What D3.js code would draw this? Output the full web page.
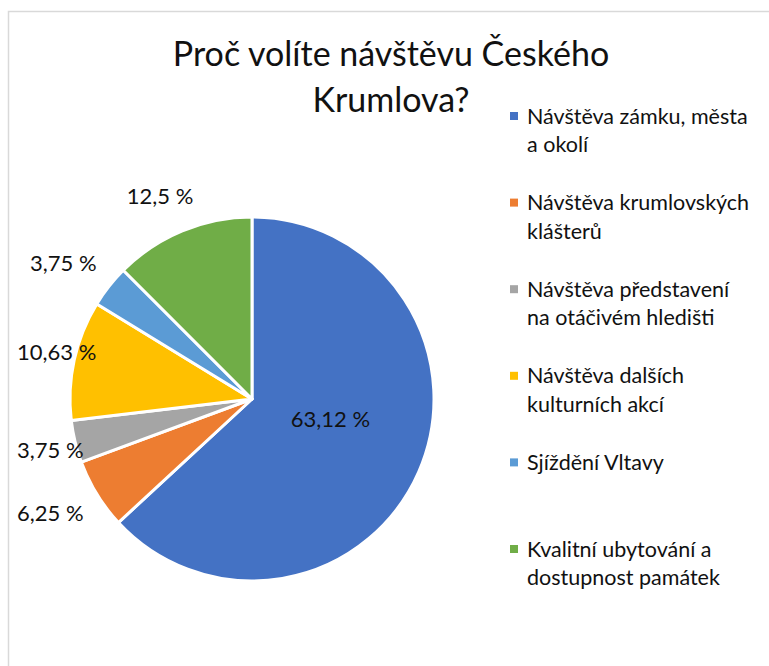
<!DOCTYPE html>
<html>
<head>
<meta charset="utf-8">
<script src="https://cdn.jsdelivr.net/npm/d3@7"></script>
<style>
  body { margin: 0; background: #fff; }
  text { font-family: Lato, "Open Sans", sans-serif; fill: #111; }
</style>
</head>
<body>
<svg id="chart" width="769" height="666"></svg>
<script>
// data
var titleLines = ['Proč volíte návštěvu Českého', 'Krumlova?'];
var categories = [
    'Návštěva zámku, města a okolí',
    'Návštěva krumlovských klášterů',
    'Návštěva představení na otáčivém hledišti',
    'Návštěva dalších kulturních akcí',
    'Sjíždění Vltavy',
    'Kvalitní ubytování a dostupnost památek'
];
var shares = [63.12, 6.25, 3.75, 10.63, 3.75, 12.5];
var colors = ['#4472C4', '#ED7D31', '#A5A5A5', '#FFC000', '#5B9BD5', '#70AD47'];

var width = 769, height = 666;
var cx = 252, cy = 399, radius = 182;

var svg = d3.select('#chart');

// chart area frame (only top and left edges are in the shot)
svg.append('rect')
    .attr('x', 8.5).attr('y', 11.5)
    .attr('width', 900).attr('height', 900)
    .attr('fill', 'none').attr('stroke', '#d9d9d9').attr('stroke-width', 1.5);

// title
svg.append('g').selectAll('text').data(titleLines)
    .enter().append('text')
    .attr('x', 391)
    .attr('y', function(d, i) { return 66 + i * 46; })
    .attr('text-anchor', 'middle')
    .style('font-size', '34px')
    .text(function(d) { return d; });

// pie
var pie = d3.pie().sort(null).value(function(d) { return d; });
var arcs = pie(shares);
var arc = d3.arc().innerRadius(0).outerRadius(radius);

var g = svg.append('g').attr('transform', 'translate(' + cx + ',' + cy + ')');
g.selectAll('path').data(arcs).enter()
    .append('path')
    .attr('d', arc)
    .attr('fill', function(d, i) { return colors[i]; })
    .attr('stroke', '#fff')
    .attr('stroke-width', 3)
    .attr('stroke-linejoin', 'round');

// data labels, czech decimal comma
var cz = d3.formatLocale({decimal: ',', thousands: ' ', grouping: [3], currency: ['', ' Kč']});
var fmt = cz.format('.2~f');

var lblR = radius + 25, minLeft = 17, lblH = 24;
var labels = svg.append('g');
arcs.forEach(function(d, i) {
    var t = labels.append('text')
        .attr('text-anchor', 'middle')
        .attr('dy', '0.35em')
        .style('font-size', '22px')
        .text(fmt(d.data) + ' %');
    var a = (d.startAngle + d.endAngle) / 2;
    var s = Math.sin(a), c = -Math.cos(a);
    var x, y;
    if (d.endAngle - d.startAngle > Math.PI) {
        // big slice: inside
        x = cx + radius * 0.47 * s;
        y = cy + radius * 0.47 * c - 14;
    } else {
        var w = t.node().getComputedTextLength();
        x = cx + lblR * s + s * w / 2;
        y = cy + lblR * c + c * lblH / 2;
        if (x - w / 2 < minLeft) x = minLeft + w / 2;
    }
    t.attr('x', x).attr('y', y);
});

// legend
var legX = 510, legY = 116, legStep = 86.6, lineH = 28.5, maxW = 227;
var legend = svg.append('g');
categories.forEach(function(name, i) {
    var y0 = legY + i * legStep;
    legend.append('rect')
        .attr('x', legX).attr('y', y0 - 4)
        .attr('width', 8).attr('height', 8)
        .attr('fill', colors[i]);
    var t = legend.append('text')
        .attr('x', legX + 17)
        .attr('y', y0)
        .style('font-size', '21.5px');
    // wrap words to the legend width
    var words = name.split(' '), line = [];
    var span = t.append('tspan').attr('x', legX + 17).attr('dy', '0.35em');
    words.forEach(function(wd) {
        line.push(wd);
        span.text(line.join(' '));
        if (span.node().getComputedTextLength() > maxW && line.length > 1) {
            line.pop();
            span.text(line.join(' '));
            line = [wd];
            span = t.append('tspan').attr('x', legX + 17).attr('dy', lineH).text(wd);
        }
    });
});
</script>
</body>
</html>
